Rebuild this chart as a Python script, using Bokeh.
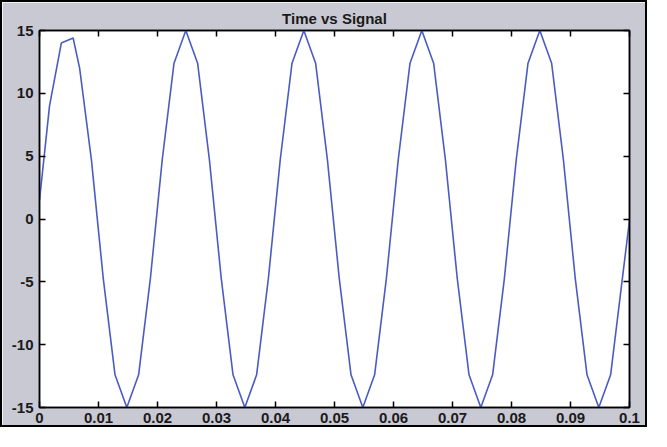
from bokeh.plotting import figure
from bokeh.models import LinearAxis, FixedTicker, Range1d, CustomLabelingPolicy
from bokeh.embed import file_html
from bokeh.resources import INLINE

# ---- data ----
time_s = [0.0000, 0.0017, 0.0037, 0.0057, 0.0068, 0.0088, 0.0108, 0.0128, 0.0148,
          0.0168, 0.0188, 0.0208, 0.0228, 0.0248, 0.0268, 0.0288, 0.0308, 0.0328,
          0.0348, 0.0368, 0.0388, 0.0408, 0.0428, 0.0448, 0.0468, 0.0488, 0.0508,
          0.0528, 0.0548, 0.0568, 0.0588, 0.0608, 0.0628, 0.0648, 0.0668, 0.0688,
          0.0708, 0.0728, 0.0748, 0.0768, 0.0788, 0.0808, 0.0828, 0.0848, 0.0868,
          0.0888, 0.0908, 0.0928, 0.0948, 0.0968, 0.0988, 0.1000]
signal = [1.5, 9.0, 14.0, 14.4, 12.0, 4.7, -4.7, -12.4, -15.0,
          -12.4, -4.7, 4.7, 12.4, 15.0, 12.4, 4.7, -4.7, -12.4,
          -15.0, -12.4, -4.7, 4.7, 12.4, 15.0, 12.4, 4.7, -4.7,
          -12.4, -15.0, -12.4, -4.7, 4.7, 12.4, 15.0, 12.4, 4.7,
          -4.7, -12.4, -15.0, -12.4, -4.7, 4.7, 12.4, 15.0, 12.4,
          4.7, -4.7, -12.4, -15.0, -12.4, -4.7, -0.1]

x_ticks = [0.0, 0.01, 0.02, 0.03, 0.04, 0.05, 0.06, 0.07, 0.08, 0.09, 0.1]
x_tick_labels = ["0", "0.01", "0.02", "0.03", "0.04", "0.05", "0.06", "0.07", "0.08", "0.09", "0.1"]
y_ticks = [-15, -10, -5, 0, 5, 10, 15]
y_tick_labels = ["-15", "-10", "-5", "0", "5", "10", "15"]
title_text = "Time vs Signal"

GRAY = "#c9c9d3"
FONT = "Liberation Sans"

p = figure(width=647, height=427, output_backend="svg", toolbar_location=None, tools="",
           x_range=Range1d(x_ticks[0], x_ticks[-1]), y_range=Range1d(y_ticks[0], y_ticks[-1]),
           min_border_left=37, min_border_right=20, min_border_top=28, min_border_bottom=22,
           background_fill_color="white", border_fill_color=GRAY,
           outline_line_color="black", outline_line_width=1.5,
           styles={"border": "2px solid black"})

p.title.text = title_text
p.title.align = "center"
p.title.text_font = FONT
p.title.text_font_size = "15px"
p.title.text_font_style = "bold"
p.title.text_color = "#1a1a1a"
p.title.standoff = 0
p.title.offset = 0

p.grid.visible = False

p.line(time_s, signal, line_color="#4a5cc4", line_width=1.6)

hide_all = CustomLabelingPolicy(code="""
    for (const i of indices) { indices.unset(i) }
    return indices
""")

top = LinearAxis()
right = LinearAxis()
p.add_layout(top, "above")
p.add_layout(right, "right")

for ax in p.xaxis:
    ax.ticker = FixedTicker(ticks=x_ticks)
    ax.major_label_overrides = {t: l for t, l in zip(x_ticks, x_tick_labels)}
for ax in p.yaxis:
    ax.ticker = FixedTicker(ticks=y_ticks)
    ax.major_label_overrides = {t: l for t, l in zip(y_ticks, y_tick_labels)}

for ax in p.xaxis + p.yaxis:
    ax.axis_line_color = "black"
    ax.axis_line_width = 1.5
    ax.major_tick_in = 6
    ax.major_tick_out = 0
    ax.major_tick_line_width = 1.5
    ax.major_tick_line_color = "black"
    ax.minor_tick_line_color = None
    ax.major_label_text_font = FONT
    ax.major_label_text_font_size = "15px"
    ax.major_label_text_font_style = "bold"
    ax.major_label_text_color = "#1a1a1a"

p.xaxis[0].major_label_standoff = 4
p.yaxis[0].major_label_standoff = 6
for ax in (top, right):
    ax.major_label_policy = hide_all
    ax.major_label_standoff = 0
    ax.major_label_text_font_size = "1px"

open("out.html", "w").write(file_html(p, INLINE))
